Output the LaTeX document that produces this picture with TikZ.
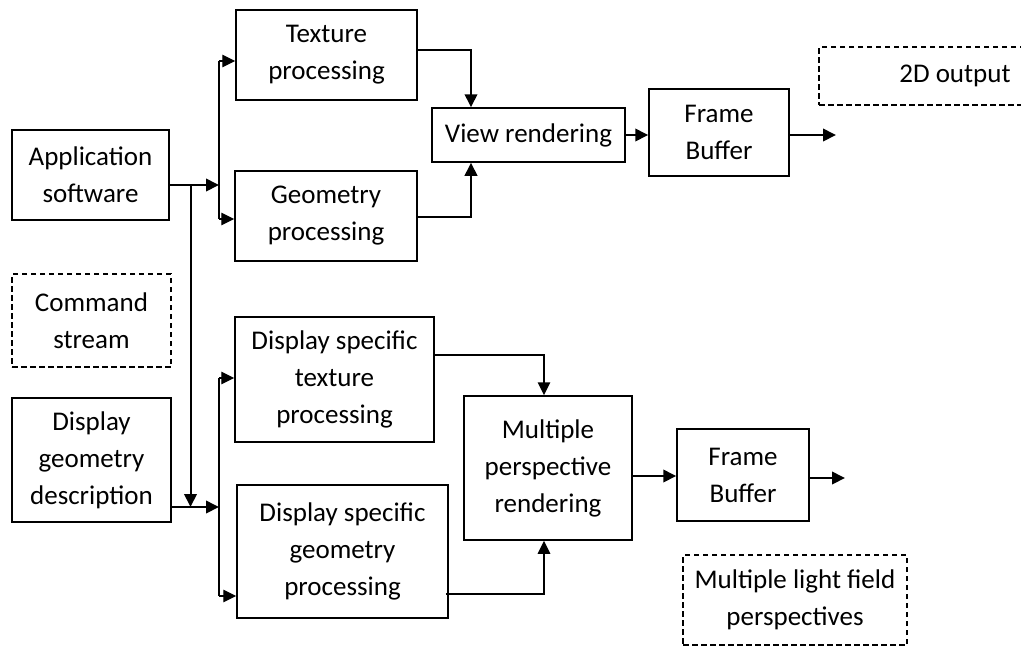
\documentclass[tikz,border=0pt]{standalone}
\usepackage{fontspec}
\setmainfont{Carlito}
\usetikzlibrary{arrows.meta,calc}
\tikzset{
  tip/.style={-{Triangle[length=13pt,width=12.5pt]}},
  box/.style={draw, line width=1.5pt, align=center, inner sep=0pt,
    font=\fontsize{27}{37}\selectfont},
  dbox/.style={box, line width=1.3pt, dash pattern=on 5.5pt off 3.5pt},
  conn/.style={line width=2pt},
  arr/.style={conn, tip},
  bus/.style={line width=1.3pt},
  barr/.style={line width=1.3pt, tip}
}
\begin{document}
\begin{tikzpicture}[x=1pt,y=-1pt]
\clip (0,0) rectangle (1021,648);
% nodes
\node[box, minimum width=157pt, minimum height=90pt] (app) at (90.5,175) {Application\\software};
\node[dbox, minimum width=159pt, minimum height=93pt] (cmd) at (91.5,320.5) {Command\\stream};
\node[box, minimum width=159pt, minimum height=124pt] (dgd) at (91.5,460) {Display\\geometry\\description};
\node[box, minimum width=181pt, minimum height=90pt] (tex) at (326.5,55) {Texture\\processing};
\node[box, minimum width=182pt, minimum height=90pt] (geo) at (326,216) {Geometry\\processing};
\node[box, minimum width=199pt, minimum height=125pt] (dst) at (334.5,379.5) {Display specific\\texture\\processing};
\node[box, minimum width=211pt, minimum height=133pt] (dsg) at (342.5,551.5) {Display specific\\geometry\\processing};
\node[box, minimum width=193pt, minimum height=54pt] (vr) at (528.5,135) {View rendering};
\node[box, minimum width=140pt, minimum height=87pt] (fb1) at (719,132.5) {Frame\\Buffer};
\node[box, minimum width=168pt, minimum height=144pt] (mpr) at (548,468) {Multiple\\perspective\\rendering};
\node[box, minimum width=132pt, minimum height=92pt] (fb2) at (743,475) {Frame\\Buffer};
\node[dbox, minimum width=272pt, minimum height=58pt] (out) at (955,76) {2D output};
\node[dbox, minimum width=224pt, minimum height=90pt] (mlf) at (795,600) {Multiple light field\\perspectives};
% coordinates
\coordinate (j1) at (219,185);
\coordinate (ja) at (190.5,185);
\coordinate (jb) at (190.5,507);
\coordinate (j2) at (219,507);
\coordinate (b1t) at (219,61);
\coordinate (b1b) at (219,219);
\coordinate (b2t) at (219,378);
\coordinate (b2b) at (219,596);
\coordinate (vin) at (471,0);
\coordinate (min) at (544,0);
\coordinate (o1) at (836,135);
\coordinate (o2) at (845,478);
% left part
\draw[arr] ([yshift=-10pt]app.east) -- (j1);
\draw[arr] (ja) -- (jb);
\draw[arr] ([yshift=-47pt]dgd.east) -- (j2);
\draw[bus] (b1t) -- (b1b);
\draw[barr] (b1t) -- (b1t -| tex.west);
\draw[barr] (b1b) -- (b1b -| geo.west);
\draw[bus] (b2t) -- (b2b);
\draw[barr] (b2t) -- (b2t -| dst.west);
\draw[barr] (b2b) -- (b2b -| dsg.west);
% upper right
\draw[arr] ([yshift=5pt]tex.east) -| (vin |- vr.north);
\draw[arr] ([yshift=-1pt]geo.east) -| (vin |- vr.south);
\draw[arr] (vr.east) -- (vr.east -| fb1.west);
\draw[arr] (fb1.east |- o1) -- (o1);
% lower right
\draw[arr, line width=1.6pt] ([yshift=24.5pt]dst.east) -| (min |- mpr.north);
\draw[arr, line width=1.6pt] ([xshift=-3pt,yshift=-42.5pt]dsg.east) -| (min |- mpr.south);
\draw[arr] ([yshift=-8pt]mpr.east) -- ([yshift=-8pt]mpr.east -| fb2.west);
\draw[arr] (fb2.east |- o2) -- (o2);
\end{tikzpicture}
\end{document}
